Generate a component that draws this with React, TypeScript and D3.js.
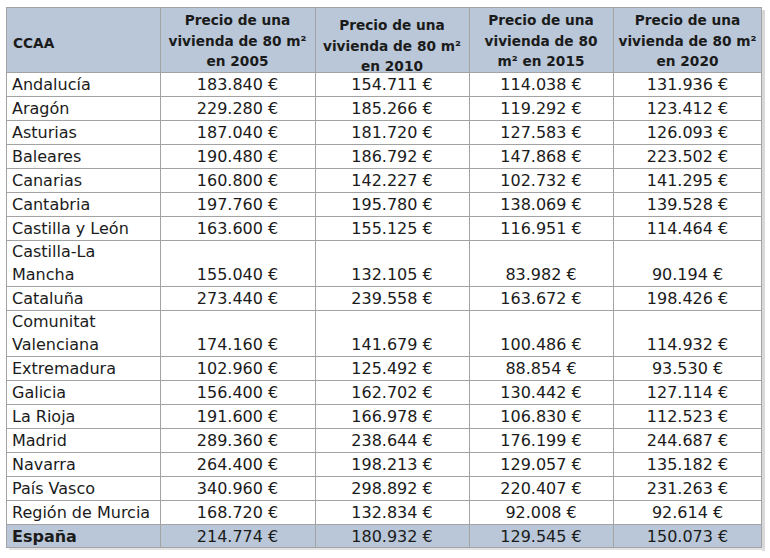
import React from "react";
import * as d3 from "d3";

// ---- Data ----
const regions = [
  "Andalucía", "Aragón", "Asturias", "Baleares", "Canarias", "Cantabria",
  "Castilla y León", "Castilla-La Mancha", "Cataluña", "Comunitat Valenciana",
  "Extremadura", "Galicia", "La Rioja", "Madrid", "Navarra", "País Vasco",
  "Región de Murcia", "España",
];
const price2005 = [183840, 229280, 187040, 190480, 160800, 197760, 163600, 155040, 273440, 174160, 102960, 156400, 191600, 289360, 264400, 340960, 168720, 214774];
const price2010 = [154711, 185266, 181720, 186792, 142227, 195780, 155125, 132105, 239558, 141679, 125492, 162702, 166978, 238644, 198213, 298892, 132834, 180932];
const price2015 = [114038, 119292, 127583, 147868, 102732, 138069, 116951, 83982, 163672, 100486, 88854, 130442, 106830, 176199, 129057, 220407, 92008, 129545];
const price2020 = [131936, 123412, 126093, 223502, 141295, 139528, 114464, 90194, 198426, 114932, 93530, 127114, 112523, 244687, 135182, 231263, 92614, 150073];
const firstHeader = "CCAA";
const headerLines = [
  ["Precio de una", "vivienda de 80 m²", "en 2005"],
  ["Precio de una", "vivienda de 80 m²", "en 2010"],
  ["Precio de una", "vivienda de 80", "m² en 2015"],
  ["Precio de una", "vivienda de 80 m²", "en 2020"],
];
const series = [price2005, price2010, price2015, price2020];
const wrapped: Record<string, string[]> = {
  "Castilla-La Mancha": ["Castilla-La", "Mancha"],
  "Comunitat Valenciana": ["Comunitat", "Valenciana"],
};

// ---- Layout ----
const W = 770, H = 558;
const colEdges = [6, 160, 315, 469, 613, 762];
const top = 7;
const headerH = 65;
const rowH = 24;
const rowH2 = 46;
const headerShift = [0, 5, 0, 0];
const headerBg = "#b9c7d8";
const borderC = "#a3a3a3";
const textC = "#1b1b1b";
const font = "'DejaVu Sans', Verdana, sans-serif";

const locale = d3.formatLocale({ decimal: ",", thousands: ".", grouping: [3], currency: ["", " €"] });
const fmt = locale.format("$,.0f");

export default function App() {
  const heights = regions.map((r) => (wrapped[r] ? rowH2 : rowH));
  const rowTops: number[] = [];
  let acc = top + headerH;
  heights.forEach((h) => { rowTops.push(acc); acc += h; });
  const bottom = acc;
  const left = colEdges[0], right = colEdges[colEdges.length - 1];
  const lastIdx = regions.length - 1;

  return (
    <svg width={W} height={H} style={{ position: "absolute", left: 0, top: 0, background: "#fff" }} fontFamily={font}>
      <rect x={0} y={0} width={W} height={H} fill="#fff" />
      {/* header background */}
      <rect x={left} y={top} width={right - left} height={headerH} fill={headerBg} />
      {/* total row background */}
      <rect x={left} y={rowTops[lastIdx]} width={right - left} height={heights[lastIdx]} fill={headerBg} />
      {/* shadow */}
      <rect x={right} y={top + 3} width={3} height={bottom - top} fill="#d8d8d8" />
      <rect x={left + 3} y={bottom} width={right - left} height={2} fill="#e2e2e2" />

      {/* header text */}
      <text x={left + 7} y={top + 41} fontSize={13.7} fontWeight="bold" fill={textC}>{firstHeader}</text>
      {headerLines.map((lines, c) => {
        const cx = (colEdges[c + 1] + colEdges[c + 2]) / 2;
        return lines.map((ln, i) => (
          <text key={`h${c}-${i}`} x={cx} y={top + 18 + headerShift[c] + i * 20.5} fontSize={13.7} fontWeight="bold" fill={textC} textAnchor="middle">{ln}</text>
        ));
      })}

      {/* body */}
      {regions.map((r, i) => {
        const yb = rowTops[i] + heights[i] - 6;
        const lines = wrapped[r] || [r];
        const isTotal = i === lastIdx;
        return (
          <g key={r}>
            {lines.map((ln, k) => (
              <text key={k} x={left + 6} y={yb - (lines.length - 1 - k) * 23} fontSize={16} fontWeight={isTotal ? "bold" : "normal"} fill={textC}>{ln}</text>
            ))}
            {series.map((s, c) => (
              <text key={c} x={(colEdges[c + 1] + colEdges[c + 2]) / 2} y={yb} fontSize={16} fill={textC} textAnchor="middle">{fmt(s[i])}</text>
            ))}
          </g>
        );
      })}

      {/* horizontal lines */}
      {[top + headerH, ...rowTops.slice(1)].map((y, i) => (
        <line key={`hl${i}`} x1={left} x2={right} y1={y + 0.5} y2={y + 0.5} stroke={borderC} strokeWidth={1} />
      ))}
      {/* vertical lines */}
      {colEdges.slice(1, -1).map((x, i) => (
        <line key={`vl${i}`} x1={x + 0.5} x2={x + 0.5} y1={top} y2={bottom} stroke={borderC} strokeWidth={1} />
      ))}
      {/* outer border */}
      <rect x={left + 0.5} y={top + 0.5} width={right - left - 1} height={bottom - top - 1} fill="none" stroke={borderC} strokeWidth={1} />
    </svg>
  );
}
